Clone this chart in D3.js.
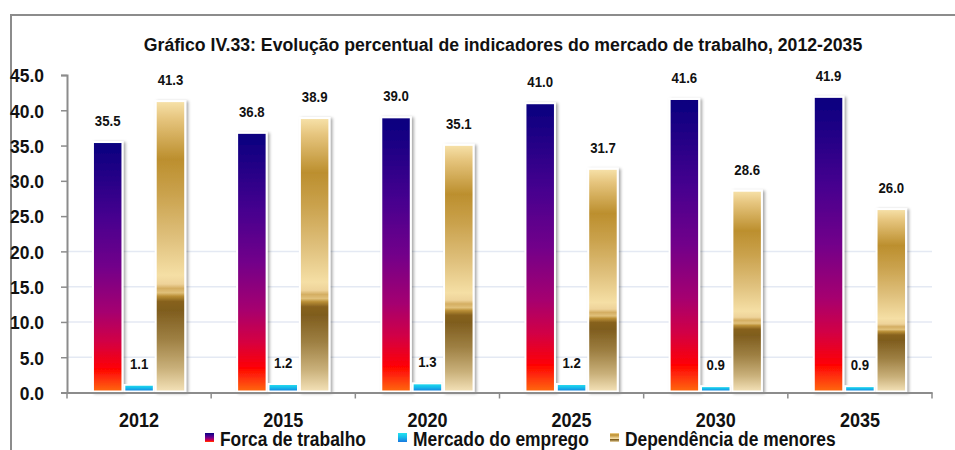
<!DOCTYPE html>
<html>
<head>
<meta charset="utf-8">
<script src="https://cdn.jsdelivr.net/npm/d3@7"></script>
<style>
  body { margin: 0; background: #fff; }
  text { font-family: "Liberation Sans", Arial, sans-serif; font-weight: bold; fill: #111; }
</style>
</head>
<body>
<div id="viz"></div>
<script>
const years = ["2012", "2015", "2020", "2025", "2030", "2035"];
const seriesNames = ["Forca de trabalho", "Mercado do emprego", "Dependência de menores"];
const forca = [35.5, 36.8, 39.0, 41.0, 41.6, 41.9];
const mercado = [1.1, 1.2, 1.3, 1.2, 0.9, 0.9];
const dependencia = [41.3, 38.9, 35.1, 31.7, 28.6, 26.0];
const yTicks = [0, 5, 10, 15, 20, 25, 30, 35, 40, 45];
const gridTicks = [5, 10, 15, 20];

const width = 955, height = 450;

// squeeze text horizontally (the original uses a narrow font)
function narrow(sel, s) {
  sel.each(function() {
    const t = d3.select(this);
    const x = +t.attr("x") || 0;
    const yy = +t.attr("y") || 0;
    t.attr("x", 0).attr("y", 0)
      .attr("transform", `translate(${x},${yy}) scale(${s},1)`);
  });
}

const svg = d3.select("#viz")
  .append("svg")
    .attr("width", width)
    .attr("height", height);

const defs = svg.append("defs");

// gradients for each series
const gradStops = {
  g0: [[0, "#08007f"], [0.3, "#46008f"], [0.5, "#72008a"], [0.68, "#a50070"], [0.8, "#d20045"], [0.91, "#ff0404"], [1, "#ff6a10"]],
  g1: [[0, "#22e4f0"], [0.5, "#16b8ea"], [1, "#1a78e0"]],
  g2: [[0, "#f7e2aa"], [0.06, "#e6c57e"], [0.2, "#bc8f2e"], [0.32, "#caa24d"], [0.47, "#dfc07c"], [0.6, "#f5dfa5"],
       [0.63, "#eed39a"], [0.645, "#d4ae62"], [0.66, "#e0c07a"], [0.672, "#b98e35"], [0.69, "#87621f"], [0.72, "#7f5d1e"],
       [0.82, "#9e8043"], [0.92, "#c9b07a"], [1, "#f4e2b8"]]
};
Object.entries(gradStops).forEach(([id, stops]) => {
  const g = defs.append("linearGradient")
    .attr("id", id)
    .attr("x1", 0).attr("y1", 0).attr("x2", 0).attr("y2", 1);
  stops.forEach(s => g.append("stop").attr("offset", s[0]).attr("stop-color", s[1]));
});

const shadow = defs.append("filter")
  .attr("id", "shadow")
  .attr("x", "-30%").attr("y", "-10%").attr("width", "160%").attr("height", "120%");
shadow.append("feDropShadow")
  .attr("dx", 2).attr("dy", 1)
  .attr("stdDeviation", 1.8)
  .attr("flood-color", "#000")
  .attr("flood-opacity", 0.35);

// outer frame
svg.append("rect")
  .attr("x", 11).attr("y", 15)
  .attr("width", 980).attr("height", 500)
  .attr("fill", "none")
  .attr("stroke", "#8c8c8c")
  .attr("stroke-width", 2);

svg.append("text")
  .attr("x", 503)
  .attr("y", 50.5)
  .attr("text-anchor", "middle")
  .style("font-size", "19px")
  .text("Gráfico IV.33: Evolução percentual de indicadores do mercado de trabalho, 2012-2035")
  .call(narrow, 0.93);

const x0 = d3.scaleBand()
  .domain(years)
  .range([67, 932])
  .padding(0);

const x1 = d3.scaleBand()
  .domain(d3.range(3))
  .range([x0.bandwidth() * 0.18, x0.bandwidth() * 0.82])
  .paddingInner(0.06);

const y = d3.scaleLinear()
  .domain([0, 45])
  .range([392.5, 75]);

// gridlines
svg.append("g")
  .selectAll("line")
  .data(gridTicks)
  .join("line")
    .attr("x1", 67).attr("x2", 932)
    .attr("y1", d => y(d)).attr("y2", d => y(d))
    .attr("stroke", "#e4e9f3")
    .attr("stroke-width", 1.5);

// y axis
const yAxis = svg.append("g")
  .attr("transform", "translate(67,0)")
  .call(d3.axisLeft(y).tickValues(yTicks).tickFormat(d3.format(".1f")).tickSize(6).tickPadding(17));
yAxis.select(".domain").attr("stroke", "#8c8c8c").attr("stroke-width", 2);
yAxis.selectAll(".tick line").attr("stroke", "#8c8c8c").attr("stroke-width", 1.5);
yAxis.selectAll("text")
  .attr("dy", "0.36em")
  .style("font-size", "19px")
  .attr("fill", "#111")
  .call(narrow, 0.92);
yAxis.attr("font-family", null).attr("font-size", null);

const data = years.map((yr, i) => ({
  year: yr,
  values: [forca[i], mercado[i], dependencia[i]]
}));

const groups = svg.selectAll(".yr")
  .data(data)
  .join("g")
    .attr("class", "yr")
    .attr("transform", d => `translate(${x0(d.year)},0)`);

groups.selectAll("rect")
  .data(d => d.values.map((v, k) => ({ v, k })))
  .join("rect")
    .attr("x", d => x1(d.k))
    .attr("y", d => y(d.v))
    .attr("width", x1.bandwidth())
    .attr("height", d => y(0) - y(d.v) - 1)
    .attr("fill", d => `url(#g${d.k})`)
    .attr("stroke", "#fff")
    .attr("stroke-width", 2)
    .attr("filter", "url(#shadow)");

groups.selectAll("text.val")
  .data(d => d.values.map((v, k) => ({ v, k })))
  .join("text")
    .attr("class", "val")
    .attr("x", d => x1(d.k) + x1.bandwidth() / 2)
    .attr("y", d => y(d.v) - 16)
    .attr("text-anchor", "middle")
    .style("font-size", "15px")
    .text(d => d.v.toFixed(1))
    .call(narrow, 0.88);

// x axis
const xAxis = svg.append("g")
  .attr("transform", `translate(0,${y(0)})`)
  .call(d3.axisBottom(x0).tickSize(0).tickPadding(20));
xAxis.select(".domain").attr("stroke", "#8c8c8c").attr("stroke-width", 2);
xAxis.selectAll("text")
  .attr("dy", "0.71em")
  .style("font-size", "20px")
  .attr("fill", "#111")
  .call(narrow, 0.9);
xAxis.attr("font-family", null).attr("font-size", null);
svg.append("g")
  .selectAll("line")
  .data(years.concat(["end"]))
  .join("line")
    .attr("x1", d => d === "end" ? x0.range()[1] : x0(d))
    .attr("x2", d => d === "end" ? x0.range()[1] : x0(d))
    .attr("y1", y(0)).attr("y2", y(0) + 6)
    .attr("stroke", "#8c8c8c")
    .attr("stroke-width", 1.5);

// legend
const legendX = [205, 398, 610];
const legend = svg.append("g").attr("class", "legend");
seriesNames.forEach((name, i) => {
  legend.append("rect")
    .attr("x", legendX[i])
    .attr("y", 433)
    .attr("width", 9)
    .attr("height", 9)
    .attr("fill", `url(#g${i})`);
  legend.append("text")
    .attr("x", legendX[i] + 15)
    .attr("y", 445.5)
    .style("font-size", "20px")
    .text(name)
    .call(narrow, 0.87);
});
</script>
</body>
</html>
